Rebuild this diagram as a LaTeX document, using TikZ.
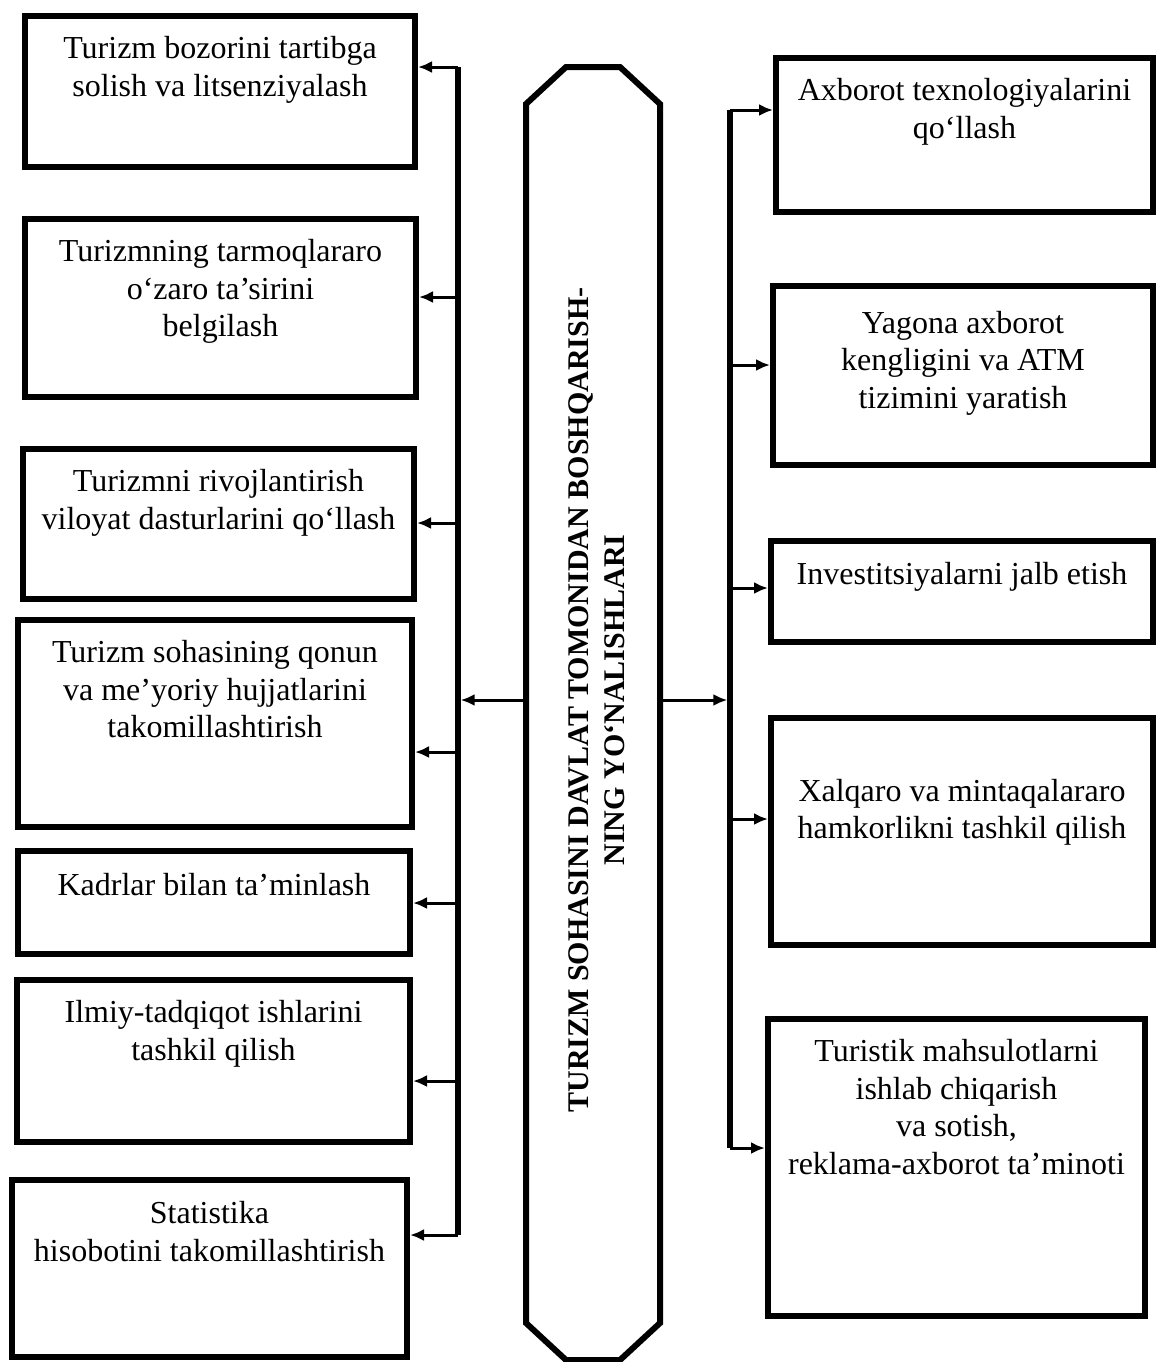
\documentclass[tikz,border=0pt]{standalone}
\usepackage{fontspec}
\setmainfont{Liberation Serif}
\usetikzlibrary{arrows.meta}
\begin{document}
\begin{tikzpicture}[x=0.5pt,y=-0.5pt,
  box/.style={draw, line width=3pt, rectangle, inner sep=0pt},
  lbl/.style={align=center, anchor=north, inner sep=0pt, font=\fontsize{16pt}{18.8pt}\selectfont},
  busline/.style={line width=2.6pt},
  conn/.style={line width=1.5pt, -{Latex[length=7pt,width=6pt]}},
  octline/.style={line width=3pt, line join=miter},
  ttl/.style={rotate=90, align=center, inner sep=0pt, font=\bfseries\fontsize{15pt}{18pt}\selectfont}
]
\useasboundingbox (0,0) rectangle (1156,1362);
% left boxes
\node[box, minimum width=195pt,   minimum height=75.5pt]  (L1) at (220,91.5)   {};
\node[box, minimum width=195.5pt, minimum height=89pt]    (L2) at (220.5,308)  {};
\node[box, minimum width=195.5pt, minimum height=75pt]    (L3) at (218.5,524)  {};
\node[box, minimum width=197pt,   minimum height=103.5pt] (L4) at (215,723.5)  {};
\node[box, minimum width=196pt,   minimum height=51.5pt]  (L5) at (214,902.5)  {};
\node[box, minimum width=196.5pt, minimum height=81pt]    (L6) at (213.5,1061) {};
\node[box, minimum width=197.5pt, minimum height=88.5pt]  (L7) at (209.5,1268.5) {};
% right boxes
\node[box, minimum width=188.5pt, minimum height=77pt]    (R1) at (964.5,135)  {};
\node[box, minimum width=190pt,   minimum height=89.5pt]  (R2) at (963,375.5)  {};
\node[box, minimum width=191pt,   minimum height=50.5pt]  (R3) at (962,591.5)  {};
\node[box, minimum width=191pt,   minimum height=113.5pt] (R4) at (962,831.5)  {};
\node[box, minimum width=188.5pt, minimum height=148.5pt] (R5) at (956.5,1167.5) {};
% labels
\node[lbl] (tL1) at ([yshift=-11.5pt]L1.north) {Turizm bozorini tartibga\\solish va litsenziyalash};
\node[lbl] (tL2) at ([yshift=-11.5pt]L2.north) {Turizmning tarmoqlararo\\o‘zaro ta’sirini\\belgilash};
\node[lbl] (tL3) at ([yshift=-11.5pt]L3.north) {Turizmni rivojlantirish\\viloyat dasturlarini qo‘llash};
\node[lbl] (tL4) at ([yshift=-11.5pt]L4.north) {Turizm sohasining qonun\\va me’yoriy hujjatlarini\\takomillashtirish};
\node[lbl] (tL5) at ([yshift=-12.5pt]L5.north) {Kadrlar bilan ta’minlash};
\node[lbl] (tL6) at ([yshift=-11.5pt]L6.north) {Ilmiy-tadqiqot ishlarini\\tashkil qilish};
\node[lbl] (tL7) at ([yshift=-12pt]L7.north) {Statistika\\hisobotini takomillashtirish};
\node[lbl] (tR1) at ([yshift=-11.5pt]R1.north) {Axborot texnologiyalarini\\qo‘llash};
\node[lbl] (tR2) at ([yshift=-13.8pt]R2.north) {Yagona axborot\\kengligini va ATM\\tizimini yaratish};
\node[lbl] (tR3) at ([yshift=-12pt]R3.north) {Investitsiyalarni jalb etish};
\node[lbl] (tR4) at ([yshift=-31.8pt]R4.north) {Xalqaro va mintaqalararo\\hamkorlikni tashkil qilish};
\node[lbl] (tR5) at ([yshift=-11.5pt]R5.north) {Turistik mahsulotlarni\\ishlab chiqarish\\va sotish,\\reklama-axborot ta’minoti};
% central octagon
\node[minimum width=67pt, minimum height=646.5pt, inner sep=0pt, outer sep=0pt] (O) at (593,713.5) {};
\draw[octline] ([xshift=20pt]O.north west) -- ([xshift=-20pt]O.north east) -- ([yshift=-18.5pt]O.north east)
  -- ([yshift=18.5pt]O.south east) -- ([xshift=-20pt]O.south east) -- ([xshift=20pt]O.south west)
  -- ([yshift=18.5pt]O.south west) -- ([yshift=-18.5pt]O.north west) -- cycle;
\node[ttl] (T) at (597,700) {TURIZM SOHASINI DAVLAT TOMONIDAN BOSHQARISH-\\NING YO‘NALISHLARI};
% left bus
\coordinate (a1) at (458,67);
\coordinate (a2) at (458,297);
\coordinate (a3) at (458,523);
\coordinate (a4) at (458,752);
\coordinate (a5) at (458,903);
\coordinate (a6) at (458,1081);
\coordinate (a7) at (458,1235);
\coordinate (cl) at (458,700);
\draw[busline] (a1) -- (a7);
\foreach \i in {1,...,7} {\draw[conn] (a\i) -- (L\i.east |- a\i);}
\draw[conn, shorten >=1.3pt] (O.west |- cl) -- (cl);
% right bus
\coordinate (b1) at (730,110);
\coordinate (b2) at (730,365);
\coordinate (b3) at (730,588);
\coordinate (b4) at (730,819);
\coordinate (b5) at (730,1148);
\coordinate (cr) at (730,700);
\draw[busline] (b1) -- (b5);
\foreach \i in {1,...,5} {\draw[conn] (b\i) -- (R\i.west |- b\i);}
\draw[conn, shorten >=1.3pt] (O.east |- cr) -- (cr);
\end{tikzpicture}
\end{document}
